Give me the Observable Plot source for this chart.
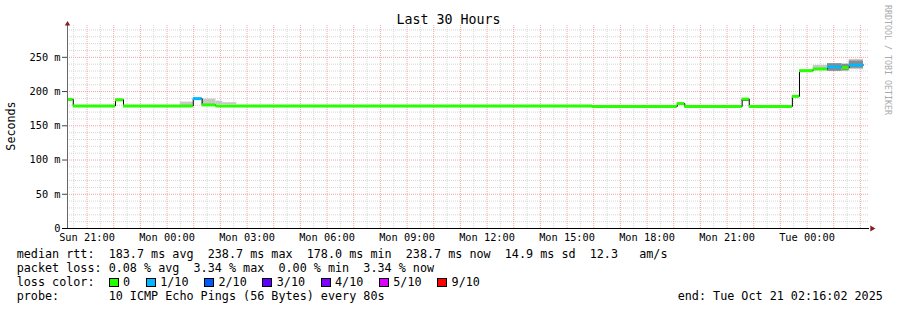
<!DOCTYPE html>
<html><head><meta charset="utf-8">
<script src="https://cdn.jsdelivr.net/npm/d3@7"></script>
<script src="https://cdn.jsdelivr.net/npm/@observablehq/plot@0.6"></script>
<style>
body{margin:0;background:#fff}
#chart{width:897px;height:310px}
svg{display:block}
</style></head><body><div id="chart"></div>
<script>
// ---- data ----
const titleText = "Last 30 Hours";
const yLabel = "Seconds";
const watermark = "RRDTOOL / TOBI OETIKER";
const rangeStart = "2025-10-19T20:16:02Z";
const rangeEnd = "2025-10-21T02:16:02Z";
const dataEnd = "2025-10-21T02:07:00Z";
const yTop = 296.5;
const yTicks = [0, 50, 100, 150, 200, 250];

// median rtt (ms) step segments
const segStart = [
  "2025-10-19T20:16:02Z", "2025-10-19T20:29:00Z", "2025-10-19T22:04:00Z", "2025-10-19T22:22:00Z",
  "2025-10-20T00:59:00Z", "2025-10-20T01:19:00Z", "2025-10-20T01:50:00Z", "2025-10-20T15:57:00Z",
  "2025-10-20T19:08:00Z", "2025-10-20T19:25:00Z", "2025-10-20T21:34:00Z", "2025-10-20T21:50:00Z",
  "2025-10-20T23:27:00Z", "2025-10-20T23:43:00Z", "2025-10-21T00:14:00Z", "2025-10-21T00:46:00Z",
  "2025-10-21T01:19:00Z", "2025-10-21T01:35:00Z"
];
const medianMs = [188.5, 179, 188, 179, 189.7, 180.5, 179, 178.2, 182.5, 178.2, 189, 178.2, 193, 230.5, 233, 236, 235, 238.7];
const lossLevel = [0, 0, 0, 0, 1, 0, 0, 0, 0, 0, 0, 0, 0, 0, 0, 1, 0, 1];

// smoke (spread of pings) bands
const smokeStart = ["2025-10-20T00:30:00Z", "2025-10-20T01:19:00Z", "2025-10-20T01:50:00Z", "2025-10-20T02:05:00Z",
  "2025-10-20T21:34:00Z", "2025-10-21T00:14:00Z", "2025-10-21T00:46:00Z", "2025-10-21T01:19:00Z",
  "2025-10-21T01:35:00Z", "2025-10-21T01:35:00Z"];
const smokeEnd = ["2025-10-20T00:59:00Z", "2025-10-20T01:50:00Z", "2025-10-20T02:05:00Z", "2025-10-20T02:37:00Z",
  "2025-10-20T21:50:00Z", "2025-10-21T00:46:00Z", "2025-10-21T01:19:00Z", "2025-10-21T01:35:00Z",
  "2025-10-21T02:07:00Z", "2025-10-21T02:07:00Z"];
const smokeLow = [179, 181, 181, 181, 185.5, 232.5, 229.5, 230, 232, 234];
const smokeHigh = [184.6, 189, 186, 183.7, 188, 238.3, 240.8, 240, 247, 244.6];
const smokeShade = [0, 0, 0, 0, 2, 0, 1, 1, 0, 1];
const smokeColors = ["#c8c8c8", "#8a8a8a", "#505050"];

const lossLabels = ["0", "1/10", "2/10", "3/10", "4/10", "5/10", "9/10"];
const lossColors = ["#26ff00", "#00b8ff", "#0059ff", "#5e00ff", "#7e00ff", "#dd00ff", "#ff0000"];

const statsLines = [
  "median rtt:  183.7 ms avg  238.7 ms max  178.0 ms min  238.7 ms now  14.9 ms sd  12.3   am/s",
  "packet loss: 0.08 % avg  3.34 % max  0.00 % min  3.34 % now"
];
const lossTitle = "loss color:";
const probeLabel = "probe:       10 ICMP Echo Pings (56 Bytes) every 80s";
const endLabel = "end: Tue Oct 21 02:16:02 2025";

// ---- build ----
const FONT = "'DejaVu Sans Mono', 'Liberation Mono', monospace";
const CW = 7.07; // legend char width
const t0 = new Date(rangeStart), t1 = new Date(rangeEnd), tEnd = new Date(dataEnd);
const rows = segStart.map((s, i) => ({
  a: new Date(s), b: new Date(i + 1 < segStart.length ? segStart[i + 1] : dataEnd),
  v: medianMs[i], c: lossColors[lossLevel[i]]
}));
const linePts = rows.map(r => ({t: r.a, v: r.v})).concat([{t: tEnd, v: medianMs[medianMs.length - 1]}]);
const smoke = smokeStart.map((s, i) => ({a: new Date(s), b: new Date(smokeEnd[i]), lo: smokeLow[i], hi: smokeHigh[i], f: smokeColors[smokeShade[i]]}));

const hours = d3.utcHour.range(t0, t1);
const halfHours = d3.utcMinute.every(30).range(t0, t1).filter(d => d.getUTCMinutes() === 30);
const labelHours = d3.utcHour.every(3).range(t0, t1);
const majorY = d3.range(50, yTop, 50);
const minorY = d3.range(10, yTop, 10).filter(v => v % 50 !== 0);

const plot = Plot.plot({
  width: 897, height: 310,
  marginLeft: 67, marginRight: 30, marginTop: 25, marginBottom: 82,
  x: {type: "utc", domain: [t0, t1]},
  y: {domain: [0, yTop]},
  color: {type: "identity"},
  style: {background: "#fff", fontFamily: FONT, overflow: "visible"},
  marks: [
    // grids
    Plot.ruleY(minorY, {x1: t0, x2: t1, stroke: "#d6d6d6", strokeDasharray: "1,1", insetRight: -2}),
    Plot.ruleX(halfHours, {y1: 0, y2: yTop, stroke: "#d6d6d6", strokeDasharray: "1,1"}),
    Plot.ruleY(majorY, {x1: t0, x2: t1, stroke: "#f2a4a4", strokeDasharray: "1,1", insetRight: -2}),
    Plot.ruleX(hours, {y1: 0, y2: yTop, stroke: "#f2a4a4", strokeDasharray: "1,1"}),
    // smoke
    Plot.rect(smoke, {x1: "a", x2: "b", y1: "lo", y2: "hi", fill: "f"}),
    // median
    Plot.line(linePts, {x: "t", y: "v", curve: "step-after", stroke: "#000", strokeWidth: 1}),
    Plot.ruleY(rows, {x1: "a", x2: "b", y: "v", stroke: "c", strokeWidth: 3}),
    // axes
    Plot.axisY({ticks: yTicks, tickFormat: d => d === 0 ? "0" : d + " m", tickSize: 5, tickPadding: 2,
      stroke: "#444", fill: "#000", fontSize: 10.3, fontFamily: FONT}),
    Plot.axisX({ticks: labelHours, tickFormat: d3.utcFormat("%a %H:%M"), tickSize: 0, tickPadding: 5,
      fill: "#000", fontSize: 10.3, fontFamily: FONT}),
    Plot.ruleX([t0], {y1: 0, y2: yTop, stroke: "#666"}),
    Plot.ruleY([0], {x1: t0, x2: t1, stroke: "#000", insetLeft: -5, insetRight: -2}),
    Plot.dot([{t: t0, v: yTop}], {x: "t", y: "v", symbol: "triangle", r: 2, fill: "#7f1f1f", dy: -1.5}),
    Plot.dot([{t: t1, v: 0}], {x: "t", y: "v", symbol: "triangle", r: 2.2, rotate: 90, fill: "#7f1f1f", dx: 4.5})
  ]
});
document.getElementById("chart").appendChild(plot);

const svg = d3.select(plot);
svg.append("text").attr("x", 448.5).attr("y", 24).attr("text-anchor", "middle")
  .style("font-family", FONT).style("font-size", "13.3px").attr("fill", "#000").text(titleText);
svg.append("text").attr("transform", "translate(14.5,126) rotate(-90)").attr("text-anchor", "middle")
  .style("font-family", FONT).style("font-size", "11.7px").attr("fill", "#000").text(yLabel);
svg.append("text").attr("transform", "translate(884.5,5) rotate(90)").attr("text-anchor", "start")
  .style("font-family", FONT).style("font-size", "8.3px").attr("fill", "#aaaaaa").text(watermark);

const lx = 16.7;
const legendStyle = sel => sel.style("font-family", FONT).style("font-size", "11.75px").attr("fill", "#000")
  .attr("text-anchor", "start").attr("xml:space", "preserve").style("white-space", "pre");
statsLines.forEach((s, i) => {
  svg.append("text").attr("x", lx).attr("y", 258 + 14 * i).call(legendStyle).text(s);
});
svg.append("text").attr("x", lx).attr("y", 286).call(legendStyle).text(lossTitle);
let cx = lx + 13 * CW;
lossLabels.forEach((lab, i) => {
  svg.append("rect").attr("x", Math.round(cx) + 0.5).attr("y", 278.5).attr("width", 9).attr("height", 8)
    .attr("fill", lossColors[i]).attr("stroke", "#000").attr("stroke-width", 1);
  svg.append("text").attr("x", cx + 14.5).attr("y", 286).call(legendStyle).text(lab);
  cx = cx + 14.5 + lab.length * CW + 15.5;
});
svg.append("text").attr("x", lx).attr("y", 300).call(legendStyle).text(probeLabel);
svg.append("text").attr("x", 677.7).attr("y", 300).call(legendStyle).text(endLabel);
</script>
</body></html>
